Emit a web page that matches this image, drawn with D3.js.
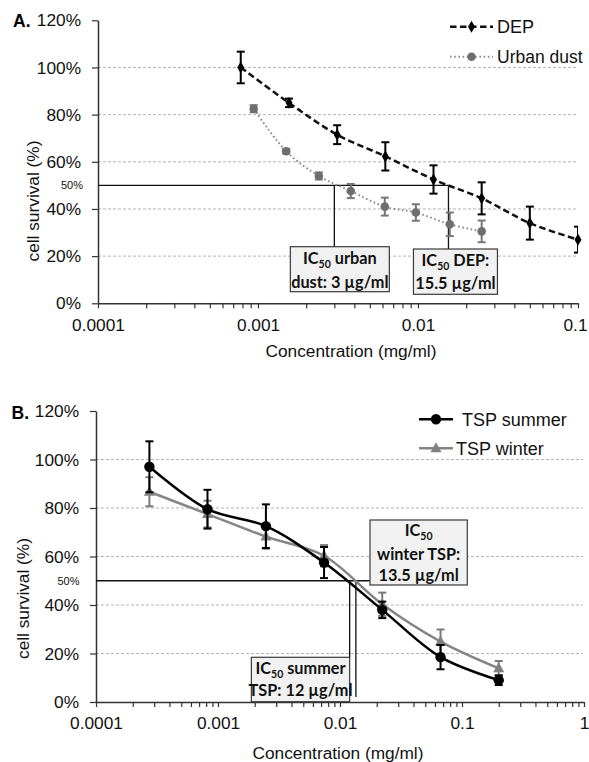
<!DOCTYPE html>
<html>
<head>
<meta charset="utf-8">
<script src="https://cdn.jsdelivr.net/npm/d3@7"></script>
<style>
  html, body { margin: 0; padding: 0; background: #fff; }
  svg { display: block; }
  .tick text { font-family: "Liberation Sans", Arial, sans-serif; fill: #111; }
</style>
</head>
<body>
<svg id="chart" width="589" height="762"></svg>
<script>
// ---- Panel A: DEP vs urban dust ----
const depConc      = [0.00078, 0.0015625, 0.003125, 0.00625, 0.0125, 0.025, 0.05, 0.1];
const depSurvival  = [100, 85, 71.5, 62.3, 52.5, 44.5, 34, 27];
const depError     = [6.7, 1.8, 4, 6, 6, 6.8, 7, 5.5];

const dustConc     = [0.00094, 0.0015, 0.0024, 0.0038, 0.0062, 0.0097, 0.0158, 0.025];
const dustSurvival = [82.5, 64.5, 54, 47.6, 41, 38.5, 33.5, 30.5];
const dustError    = [1.5, 1, 1.5, 3, 3.8, 3.5, 5, 4.6];

const ic50Dust = 0.003;   // mg/ml (3 µg/ml)
const ic50Dep  = 0.0155;  // mg/ml (15.5 µg/ml)
const xTickLabelsA = ["0.0001", "0.001", "0.01", "0.1"];

// ---- Panel B: TSP summer vs winter ----
const tspConc        = [0.000274, 0.00082, 0.00247, 0.0074, 0.0222, 0.0667, 0.2];
const summerSurvival = [97, 79.5, 72.5, 57.5, 38, 18.5, 9];
const summerError    = [10.5, 8, 9, 6.4, 3.4, 5, 2];
const winterSurvival = [86.7, 77.5, 68.2, 60.3, 40.3, 24.9, 13.9];
const winterError    = [6, 5.5, 5, 4.4, 4.8, 5, 3];

const ic50Summer = 0.012;   // mg/ml (12 µg/ml)
const ic50Winter = 0.0135;  // mg/ml (13.5 µg/ml)
const xTickLabelsB = ["0.0001", "0.001", "0.01", "0.1", "1"];

const yTicks = [0, 20, 40, 60, 80, 100, 120];
const gridValues = [20, 40, 60, 80, 100];

const svg = d3.select("#chart");
const SANS = '"Liberation Sans", Arial, sans-serif';
const BOX_FONT = 'Lato, "Open Sans", sans-serif';

function minorTicks(lo, hi) {
  const out = [];
  for (let e = lo; e < hi; e++) {
    for (let m = 1; m <= 9; m++) out.push(m * Math.pow(10, e));
  }
  out.push(Math.pow(10, hi));
  return out;
}

function drawFrame(g, x, y, labels, opt) {
  const [x0, x1] = x.range();
  const [y0] = y.range();

  // dashed horizontal gridlines
  g.append("g").selectAll("line").data(gridValues).join("line")
    .attr("x1", x0).attr("x2", x1 - 1)
    .attr("y1", d => y(d)).attr("y2", d => y(d))
    .attr("stroke", "#b4b4b4").attr("stroke-width", 1)
    .attr("stroke-dasharray", "3,2");

  // axes
  const yAxis = d3.axisLeft(y).tickValues(yTicks).tickFormat(d => d + "%")
    .tickSize(6).tickPadding(11).tickSizeOuter(0);
  const ga = g.append("g").attr("transform", `translate(${x0},0)`).call(yAxis);
  ga.selectAll("text").attr("font-size", 17.3);

  const lo = Math.round(Math.log10(x.domain()[0]));
  const hi = Math.round(Math.log10(x.domain()[1]));
  const xAxis = d3.axisBottom(x).tickValues(minorTicks(lo, hi))
    .tickFormat(d => {
      const e = Math.log10(d);
      return Math.abs(e - Math.round(e)) < 1e-9 ? labels[Math.round(e) - lo] : "";
    })
    .tickSize(5).tickPadding(10).tickSizeOuter(0);
  const gx = g.append("g").attr("transform", `translate(0,${y0})`).call(xAxis);
  gx.selectAll("text").attr("font-size", 17.3);
  // keep the right-most decade label inside the page
  gx.selectAll(".tick:last-of-type text").attr("dx", opt.lastLabelShift || 0);

  [ga, gx].forEach(a => {
    a.selectAll("path.domain").attr("stroke", "#333").attr("stroke-width", 1.5);
    a.selectAll(".tick line").attr("stroke", "#333").attr("stroke-width", 1.2);
  });

  // small 50% marker label
  g.append("text").attr("x", opt.label50x).attr("y", y(50) + 4)
    .attr("text-anchor", "end").attr("font-family", SANS).attr("font-size", 11)
    .attr("fill", "#111").text("50%");

  // axis titles
  g.append("text").attr("x", opt.xTitle[0]).attr("y", opt.xTitle[1])
    .attr("text-anchor", "middle").attr("font-family", SANS).attr("font-size", 17.3)
    .attr("fill", "#111").text("Concentration (mg/ml)");
  g.append("text")
    .attr("transform", `translate(${opt.yTitle[0]},${opt.yTitle[1]}) rotate(-90)`)
    .attr("text-anchor", "middle").attr("font-family", SANS).attr("font-size", 17.3)
    .attr("fill", "#111").text("cell survival (%)");

  // panel letter
  g.append("text").attr("x", opt.letter[0]).attr("y", opt.letter[1])
    .attr("font-family", SANS).attr("font-size", 17.5).attr("font-weight", "bold")
    .attr("fill", "#000").text(opt.letter[2]);
}

function drawSeries(g, x, y, conc, vals, errs, st, clipId) {
  const pts = conc.map((c, i) => ({ c, v: vals[i], e: errs[i] }));
  const line = d3.line().x(d => x(d.c)).y(d => y(d.v)).curve(d3.curveCatmullRom.alpha(0.5));
  g.append("path").datum(pts).attr("d", line)
    .attr("fill", "none").attr("stroke", st.lineColor).attr("stroke-width", st.lineWidth)
    .attr("stroke-dasharray", st.dash || null);

  const eb = g.append("g").attr("clip-path", `url(#${clipId})`)
    .attr("stroke", st.errColor).attr("stroke-width", 2).attr("fill", "none");
  pts.forEach(d => {
    const cx = x(d.c), yt = y(d.v + d.e), yb = y(d.v - d.e), hw = 4;
    eb.append("line").attr("x1", cx).attr("x2", cx).attr("y1", yt).attr("y2", yb);
    eb.append("line").attr("x1", cx - hw).attr("x2", cx + hw).attr("y1", yt).attr("y2", yt);
    eb.append("line").attr("x1", cx - hw).attr("x2", cx + hw).attr("y1", yb).attr("y2", yb);
  });

  g.append("g").selectAll("path").data(pts).join("path")
    .attr("transform", d => `translate(${x(d.c)},${y(d.v)})`)
    .attr("d", st.marker).attr("fill", st.markerColor);
}

function drawBox(g, bx, by, bw, bh, lines) {
  g.append("rect").attr("x", bx).attr("y", by).attr("width", bw).attr("height", bh)
    .attr("fill", "#f1f1f1").attr("stroke", "#3a3a3a").attr("stroke-width", 1.2);
  lines.forEach(l => {
    const t = g.append("text").attr("x", bx + bw / 2).attr("y", l.y)
      .attr("text-anchor", "middle").attr("font-family", BOX_FONT)
      .attr("font-weight", "bold").attr("font-size", 16.3).attr("fill", "#111");
    l.parts.forEach(p => {
      if (p.sub) {
        t.append("tspan").attr("font-size", 10.5).attr("dy", 4).text(p.sub);
        t.append("tspan").attr("dy", -4).text(p.after || "");
      } else {
        t.append("tspan").text(p.t);
      }
    });
  });
}

const diamond = d3.symbol().type(d3.symbolDiamond).size(42)();
const circleS = r => d3.symbol().type(d3.symbolCircle).size(Math.PI * r * r)();
const triangle = "M0,-6L5.5,4L-5.5,4Z";

const defs = svg.append("defs");

// ================= Panel A =================
{
  const x = d3.scaleLog().domain([1e-4, 1e-1]).range([98, 578]);
  const y = d3.scaleLinear().domain([0, 120]).range([303.3, 20.3]);
  const g = svg.append("g");
  defs.append("clipPath").attr("id", "clipA").append("rect")
    .attr("x", 98).attr("y", 0).attr("width", 578 - 98).attr("height", 310);

  drawFrame(g, x, y, xTickLabelsA, {
    label50x: 83, xTitle: [351, 357], yTitle: [39, 201], letter: [13, 27.3, "A."],
    lastLabelShift: -3
  });

  // IC50 guide lines
  const gl = g.append("g").attr("stroke", "#111").attr("stroke-width", 1.3);
  gl.append("line").attr("x1", 98).attr("x2", x(ic50Dep)).attr("y1", y(50)).attr("y2", y(50));
  gl.append("line").attr("x1", x(ic50Dust)).attr("x2", x(ic50Dust)).attr("y1", y(50)).attr("y2", 247);
  gl.append("line").attr("x1", x(ic50Dep)).attr("x2", x(ic50Dep)).attr("y1", y(50)).attr("y2", 249);

  drawSeries(g, x, y, dustConc, dustSurvival, dustError, {
    lineColor: "#8c8c8c", lineWidth: 2, dash: "1.6,2.6", errColor: "#777",
    marker: circleS(4.3), markerColor: "#6e6e6e"
  }, "clipA");
  drawSeries(g, x, y, depConc, depSurvival, depError, {
    lineColor: "#111", lineWidth: 2.5, dash: "6.5,3.5", errColor: "#000",
    marker: diamond, markerColor: "#000"
  }, "clipA");

  const ux = x(ic50Dust), dx = x(ic50Dep);
  drawBox(g, ux - 44, 246.7, 99, 45, [
    { y: 264, parts: [{ t: "IC" }, { sub: "50", after: " urban" }] },
    { y: 287.5, parts: [{ t: "dust: 3 µg/ml" }] }
  ]);
  drawBox(g, dx - 35, 249, 84, 45.3, [
    { y: 265.5, parts: [{ t: "IC" }, { sub: "50", after: " DEP:" }] },
    { y: 289, parts: [{ t: "15.5 µg/ml" }] }
  ]);

  // legend
  const lg = g.append("g");
  lg.append("line").attr("x1", 450).attr("x2", 493).attr("y1", 26.7).attr("y2", 26.7)
    .attr("stroke", "#111").attr("stroke-width", 2.5).attr("stroke-dasharray", "6.5,3.5");
  lg.append("path").attr("transform", "translate(471.5,26.7)").attr("d", diamond).attr("fill", "#000");
  lg.append("line").attr("x1", 450).attr("x2", 493).attr("y1", 56.7).attr("y2", 56.7)
    .attr("stroke", "#8c8c8c").attr("stroke-width", 2).attr("stroke-dasharray", "1.6,2.6");
  lg.append("path").attr("transform", "translate(471.5,56.7)").attr("d", circleS(4.3)).attr("fill", "#6e6e6e");
  lg.append("text").attr("x", 497).attr("y", 33.3).attr("font-family", SANS)
    .attr("font-size", 18).attr("fill", "#111").text("DEP");
  lg.append("text").attr("x", 497).attr("y", 63.3).attr("font-family", SANS)
    .attr("font-size", 17.5).attr("fill", "#111").text("Urban dust");
}

// ================= Panel B =================
{
  const x = d3.scaleLog().domain([1e-4, 1]).range([96, 584]);
  const y = d3.scaleLinear().domain([0, 120]).range([702, 411]);
  const g = svg.append("g");
  defs.append("clipPath").attr("id", "clipB").append("rect")
    .attr("x", 96).attr("y", 380).attr("width", 584 - 96).attr("height", 330);

  drawFrame(g, x, y, xTickLabelsB, {
    label50x: 79.5, xTitle: [338, 759], yTitle: [28.5, 598.5], letter: [11.5, 419.3, "B."],
    lastLabelShift: 0
  });

  const gl = g.append("g").attr("stroke", "#111").attr("stroke-width", 1.3);
  gl.append("line").attr("x1", 96).attr("x2", x(ic50Winter) + 14).attr("y1", y(50)).attr("y2", y(50));
  gl.append("line").attr("x1", x(ic50Summer)).attr("x2", x(ic50Summer)).attr("y1", y(50)).attr("y2", 657.3);
  gl.append("line").attr("x1", x(ic50Winter)).attr("x2", x(ic50Winter)).attr("y1", y(50)).attr("y2", 697);

  drawSeries(g, x, y, tspConc, winterSurvival, winterError, {
    lineColor: "#858585", lineWidth: 2.5, errColor: "#7a7a7a",
    marker: triangle, markerColor: "#808080"
  }, "clipB");
  drawSeries(g, x, y, tspConc, summerSurvival, summerError, {
    lineColor: "#000", lineWidth: 2.5, errColor: "#000",
    marker: circleS(5.2), markerColor: "#000"
  }, "clipB");

  const sx = x(ic50Summer);
  drawBox(g, sx - 98.3, 657.3, 98.3, 44.4, [
    { y: 673.5, parts: [{ t: "IC" }, { sub: "50", after: " summer" }] },
    { y: 695.5, parts: [{ t: "TSP: 12 µg/ml" }] }
  ]);
  drawBox(g, 370, 520, 97.3, 65, [
    { y: 536, parts: [{ t: "IC" }, { sub: "50", after: "" }] },
    { y: 560, parts: [{ t: "winter  TSP:" }] },
    { y: 580.5, parts: [{ t: "13.5 µg/ml" }] }
  ]);

  // legend
  const lg = g.append("g");
  lg.append("line").attr("x1", 419).attr("x2", 453).attr("y1", 419.3).attr("y2", 419.3)
    .attr("stroke", "#000").attr("stroke-width", 2.5);
  lg.append("path").attr("transform", "translate(436,419.3)").attr("d", circleS(5.2)).attr("fill", "#000");
  lg.append("line").attr("x1", 419).attr("x2", 453).attr("y1", 448.3).attr("y2", 448.3)
    .attr("stroke", "#858585").attr("stroke-width", 2.5);
  lg.append("path").attr("transform", "translate(436,448.3)").attr("d", triangle).attr("fill", "#808080");
  lg.append("text").attr("x", 462).attr("y", 425.7).attr("font-family", SANS)
    .attr("font-size", 18).attr("fill", "#111").text("TSP summer");
  lg.append("text").attr("x", 456).attr("y", 454.5).attr("font-family", SANS)
    .attr("font-size", 18).attr("fill", "#111").text("TSP winter");
}
</script>
</body>
</html>
